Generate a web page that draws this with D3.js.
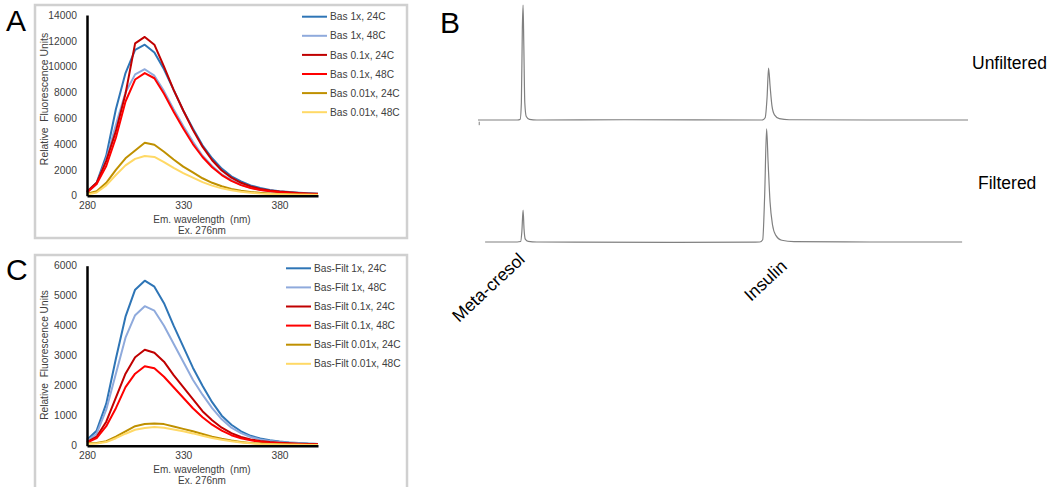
<!DOCTYPE html>
<html>
<head>
<meta charset="utf-8">
<script src="https://cdn.jsdelivr.net/npm/d3@7"></script>
<style>
  body { margin: 0; background: #fff; }
  svg { display: block; font-family: "Liberation Sans", Arial, sans-serif; }
  text { white-space: pre; }
</style>
</head>
<body>
<svg class="Figure" width="1050" height="487"></svg>
<script>
// emission wavelengths (nm)
let wavelengths = [280, 285, 290, 295, 300, 305, 310, 315, 320, 325, 330, 335, 340,
                   345, 350, 355, 360, 365, 370, 375, 380, 385, 390, 395, 400];

// panel A, unfiltered samples
let namesA = ["Bas 1x, 24C", "Bas 1x, 48C", "Bas 0.1x, 24C", "Bas 0.1x, 48C", "Bas 0.01x, 24C", "Bas 0.01x, 48C"];
let bas1x24 = [300, 1000, 3100, 6700, 9500, 11300, 11700, 11100, 9800, 8200, 6600, 5200, 3900,
               2900, 2100, 1500, 1100, 800, 600, 450, 350, 280, 230, 190, 160];
let bas1x48 = [250, 900, 2800, 5500, 8000, 9400, 9800, 9300, 8100, 6700, 5400, 4200, 3100,
               2300, 1650, 1200, 850, 620, 460, 350, 280, 220, 180, 150, 130];
let bas01x24 = [300, 1000, 2700, 5000, 7900, 11800, 12300, 11700, 10000, 8200, 6600, 5100, 3800,
                2750, 1950, 1400, 1000, 720, 520, 400, 320, 260, 210, 180, 150];
let bas01x48 = [250, 900, 2300, 4500, 7300, 9000, 9500, 9100, 7900, 6500, 5200, 4000, 3000,
                2200, 1600, 1150, 820, 600, 440, 340, 270, 210, 170, 140, 120];
let bas001x24 = [150, 350, 1000, 2000, 2900, 3500, 4100, 3950, 3400, 2800, 2250, 1800, 1350,
                 1000, 730, 530, 390, 290, 220, 170, 140, 115, 95, 80, 70];
let bas001x48 = [100, 250, 800, 1600, 2350, 2850, 3080, 3000, 2600, 2150, 1750, 1400, 1050,
                 780, 570, 420, 310, 230, 175, 140, 115, 95, 80, 65, 55];

// panel C, filtered samples
let namesC = ["Bas-Filt 1x, 24C", "Bas-Filt 1x, 48C", "Bas-Filt 0.1x, 24C", "Bas-Filt 0.1x, 48C", "Bas-Filt 0.01x, 24C", "Bas-Filt 0.01x, 48C"];
let filt1x24 = [200, 500, 1400, 2900, 4300, 5200, 5500, 5300, 4750, 4000, 3300, 2600, 2000,
                1450, 1000, 700, 480, 330, 240, 180, 140, 110, 90, 70, 60];
let filt1x48 = [150, 400, 1200, 2400, 3600, 4350, 4650, 4500, 4000, 3400, 2800, 2200, 1700,
                1250, 880, 600, 420, 290, 210, 160, 120, 100, 80, 65, 55];
let filt01x24 = [120, 300, 800, 1600, 2400, 2950, 3200, 3100, 2800, 2350, 1950, 1550, 1150,
                 850, 600, 420, 290, 210, 160, 120, 100, 80, 65, 55, 45];
let filt01x48 = [100, 250, 650, 1250, 1950, 2400, 2650, 2580, 2300, 1950, 1600, 1250, 950,
                 700, 500, 350, 250, 180, 130, 100, 80, 65, 55, 45, 40];
let filt001x24 = [80, 90, 150, 300, 480, 650, 720, 740, 720, 640, 560, 480, 390,
                  300, 230, 170, 120, 90, 70, 55, 45, 40, 35, 30, 25];
let filt001x48 = [60, 70, 120, 250, 400, 530, 590, 620, 600, 540, 480, 410, 330,
                  260, 200, 150, 110, 80, 60, 50, 40, 35, 30, 25, 22];

let seriesColors = ["#2e75b6", "#8faadc", "#c00000", "#ff0000", "#bf9000", "#ffd966"];
let xTicks = [280, 330, 380];
let yTicksA = [0, 2000, 4000, 6000, 8000, 10000, 12000, 14000];
let yTicksC = [0, 1000, 2000, 3000, 4000, 5000, 6000];

// panel B, HPLC traces (retention time in min, signal)
let timeUnfilt = [0, 1.6, 1.72, 1.77, 1.81, 1.84, 1.87, 1.91, 1.97, 2.1, 2.4, 6, 11.6,
                  11.72, 11.8, 11.86, 11.92, 12.0, 12.1, 12.3, 12.7, 16, 20];
let signalUnfilt = [0, 0, 5, 150, 800, 1000, 650, 150, 30, 5, 0, 2, 0,
                    20, 200, 452, 300, 120, 45, 12, 2, 0, 0];
let timeFilt = [0.29, 1.6, 1.74, 1.79, 1.84, 1.88, 1.93, 2.05, 2.4, 8, 11.5,
                11.62, 11.7, 11.78, 11.84, 11.92, 12.02, 12.15, 12.4, 12.9, 16, 19.76];
let signalFilt = [0, 0, 4, 90, 278, 110, 25, 5, 0, -3, 0,
                  20, 400, 983, 700, 350, 150, 60, 15, 3, 0, 0];
let peakNames = ["Meta-cresol", "Insulin"];
let traceNames = ["Unfiltered", "Filtered"];

let svg = d3.select(".Figure");

function drawSpectrum(opt){
    let g = svg.append("g");

    g.append("rect")
        .attr("x", opt.box[0]).attr("y", opt.box[1])
        .attr("width", opt.box[2]).attr("height", opt.box[3])
        .style("fill", "#fff")
        .style("stroke", "#d0d0d0")
        .style("stroke-width", 2.5);

    g.append("text")
        .attr("x", opt.letter[0]).attr("y", opt.letter[1])
        .attr("font-size", 30)
        .text(opt.label);

    let x = d3.scaleLinear().domain([280, 400]).range([87, 318]);
    let y = d3.scaleLinear().domain([0, opt.yMax]).range(opt.yRange);

    let line = d3.line()
        .x((d, i) => x(wavelengths[i]))
        .y(d => y(d));

    g.selectAll(".series")
        .data(opt.series)
        .join("path")
        .attr("class", "series")
        .attr("d", line)
        .style("fill", "none")
        .style("stroke", (d, i) => seriesColors[i])
        .style("stroke-width", 2)
        .style("stroke-linejoin", "round");

    let yAxis = g.append("g")
        .attr("transform", "translate(87,0)")
        .call(d3.axisLeft(y).tickValues(opt.yTicks).tickSize(0).tickPadding(10).tickFormat(d3.format("d")));
    let xAxis = g.append("g")
        .attr("transform", "translate(0," + opt.yRange[0] + ")")
        .call(d3.axisBottom(x).tickValues(xTicks).tickSize(0).tickPadding(6));
    [yAxis, xAxis].forEach(a => {
        a.select(".domain").style("stroke", "#000").style("stroke-width", 2.5);
        a.selectAll("text").attr("font-size", 10.3).style("fill", "#404040")
            .style("font-family", "'Liberation Sans', Arial, sans-serif");
    });

    g.append("text")
        .attr("x", 202).attr("y", opt.yRange[0] + 27)
        .attr("text-anchor", "middle")
        .attr("font-size", 10).style("fill", "#404040")
        .text("Em. wavelength  (nm)");
    g.append("text")
        .attr("x", 202).attr("y", opt.yRange[0] + 38)
        .attr("text-anchor", "middle")
        .attr("font-size", 10).style("fill", "#404040")
        .text("Ex. 276nm");
    g.append("text")
        .attr("transform", "translate(48," + opt.yTitle + ")rotate(-90)")
        .attr("text-anchor", "middle")
        .attr("font-size", opt.yTitleSize).style("fill", "#404040")
        .text("Relative  Fluorescence Units");

    let legend = g.selectAll(".legend")
        .data(opt.names)
        .join("g")
        .attr("class", "legend")
        .attr("transform", (d, i) => "translate(" + opt.legend[0] + "," + (opt.legend[1] + i * 19.1) + ")");
    legend.append("line")
        .attr("x1", 0).attr("x2", 25)
        .style("stroke", (d, i) => seriesColors[i])
        .style("stroke-width", 2);
    legend.append("text")
        .attr("x", 28).attr("y", 3.6)
        .attr("font-size", 10.2).style("fill", "#404040")
        .text(d => d);
}

drawSpectrum({
    label: "A", letter: [6, 31], box: [35, 5, 372, 233],
    yMax: 14000, yRange: [195.7, 15], yTicks: yTicksA, yTitle: 99, yTitleSize: 10.4,
    legend: [302, 16.7], names: namesA,
    series: [bas1x24, bas1x48, bas01x24, bas01x48, bas001x24, bas001x48]
});
drawSpectrum({
    label: "C", letter: [6, 280], box: [35, 255, 372, 260],
    yMax: 6000, yRange: [445.7, 265.7], yTicks: yTicksC, yTitle: 355, yTitleSize: 10.2,
    legend: [286, 268.3], names: namesC,
    series: [filt1x24, filt1x48, filt01x24, filt01x48, filt001x24, filt001x48]
});

// Panel B chromatograms
function drawChromatogram(){
    let g = svg.append("g");
    g.append("text")
        .attr("x", 440).attr("y", 33)
        .attr("font-size", 30)
        .text("B");

    let t = d3.scaleLinear().domain([0, 20]).range([478, 968]);
    let s = d3.scaleLinear().domain([0, 1000]).range([0, -115]);
    let baselines = [120, 242];

    let traces = [
        timeUnfilt.map((d, i) => [d, signalUnfilt[i]]),
        timeFilt.map((d, i) => [d, signalFilt[i]])
    ];
    let line = d3.line()
        .x(d => t(d[0]))
        .y(d => s(d[1]))
        .curve(d3.curveMonotoneX);

    g.selectAll(".trace")
        .data(traces)
        .join("path")
        .attr("class", "trace")
        .attr("transform", (d, i) => "translate(0," + baselines[i] + ")")
        .attr("d", line)
        .style("fill", "none")
        .style("stroke", "#808080")
        .style("stroke-width", 1.2);

    // small injection mark on the first trace
    g.append("line")
        .attr("x1", t(0.05)).attr("x2", t(0.05))
        .attr("y1", baselines[0] + s(-15)).attr("y2", baselines[0] + s(-45))
        .style("stroke", "#808080").style("stroke-width", 1);

    g.selectAll(".traceName")
        .data(traceNames)
        .join("text")
        .attr("class", "traceName")
        .attr("x", (d, i) => [972, 978][i])
        .attr("y", (d, i) => [69, 189][i])
        .attr("font-size", 17.5)
        .style("fill", "#000")
        .text(d => d);

    g.selectAll(".peakName")
        .data(peakNames)
        .join("text")
        .attr("class", "peakName")
        .attr("transform", (d, i) => "translate(" + [459, 751][i] + "," + [323, 302][i] + ")rotate(-43)")
        .attr("font-size", 17.5)
        .style("fill", "#000")
        .text(d => d);
}
drawChromatogram();
</script>
</body>
</html>
